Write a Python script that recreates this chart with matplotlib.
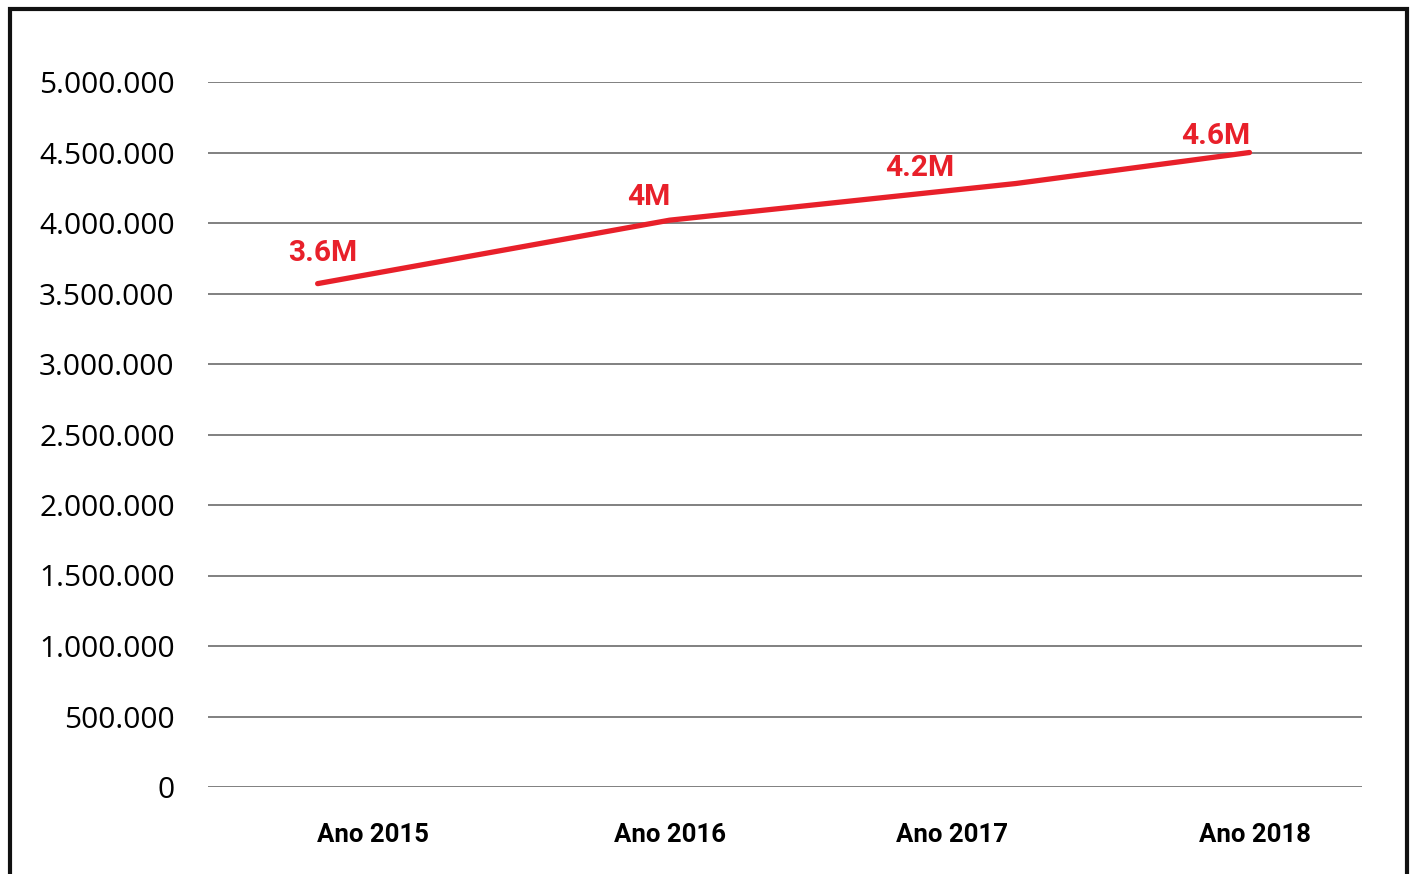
import numpy as np
import matplotlib.pyplot as plt
from matplotlib.patches import Rectangle

# categories and values
years = ["Ano 2015", "Ano 2016", "Ano 2017", "Ano 2018"]
year_pos = [0.572, 1.60, 2.58, 3.63]     # where the category labels sit
point_pos = [0.38, 1.60, 2.80, 3.61]     # where the line points sit
visitors = [3570000, 4020000, 4280000, 4500000]
point_labels = ["3.6M", "4M", "4.2M", "4.6M"]
yticks = np.arange(0, 5000001, 500000)

RED = "#e8202a"
label_offsets = [(5, 31), (-21, 23), (-96, 16), (-34, 17)]  # pixels

fig = plt.figure(figsize=(14.13, 8.74), dpi=100)
ax = fig.add_axes([208 / 1413, 1 - 787 / 874, 1154 / 1413, (787 - 82) / 874])

for y in yticks:
    ax.axhline(y, color="#808080", lw=1.4, zorder=1)

ax.plot(point_pos, visitors, color=RED, lw=3.8, solid_capstyle="round",
        solid_joinstyle="round", zorder=3)

for x, v, lab, (dx, dy) in zip(point_pos, visitors, point_labels, label_offsets):
    ax.annotate(lab, (x, v), xytext=(dx * 0.72, dy * 0.72), textcoords="offset points",
                ha="center", va="center", color=RED, fontsize=21.5,
                fontweight="bold", family="Roboto")

ax.set_xlim(0, 4)
ax.set_ylim(0, 5000000)
ax.set_xticks(year_pos)
ax.set_xticklabels(years, fontsize=18.5, fontweight="bold", family="Roboto")
ax.set_yticks(yticks)
ax.set_yticklabels([f"{int(v):,}".replace(",", ".") for v in yticks],
                   fontsize=21.5, family="Open Sans")
ax.tick_params(length=0)
ax.tick_params(axis="y", pad=24)
ax.tick_params(axis="x", pad=26)
for s in ax.spines.values():
    s.set_visible(False)

# outer frame (bottom edge falls off the image)
fig.patches.append(Rectangle((10 / 1413, -0.05), 1397 / 1413, 1.05 - 9 / 874,
                             transform=fig.transFigure, fill=False,
                             edgecolor="#111111", lw=3))

fig.savefig("out.png", dpi=100)
